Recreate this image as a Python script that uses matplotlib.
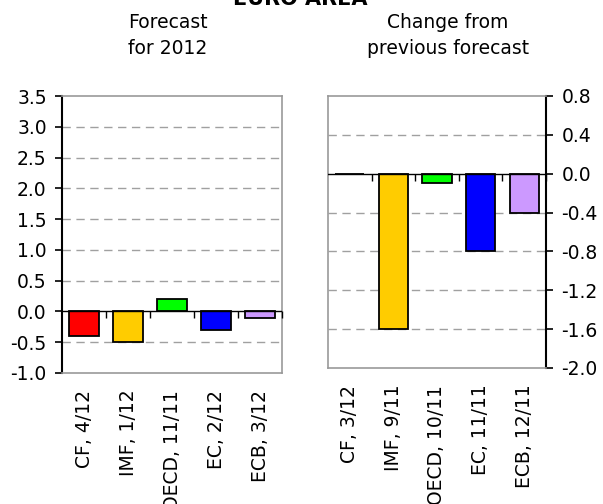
import matplotlib
matplotlib.use("Agg")
import matplotlib.pyplot as plt
import matplotlib.markers as mmarkers
import numpy as np

# Forecast of euro area GDP growth for 2012 and change from previous forecast
left_labels = ["CF, 4/12", "IMF, 1/12", "OECD, 11/11", "EC, 2/12", "ECB, 3/12"]
left_values = [-0.4, -0.5, 0.2, -0.3, -0.1]

right_labels = ["CF, 3/12", "IMF, 9/11", "OECD, 10/11", "EC, 11/11", "ECB, 12/11"]
right_values = [0.0, -1.6, -0.1, -0.8, -0.4]

bar_colors = ["#FF0000", "#FFCC00", "#00FF00", "#0000FF", "#CC99FF"]

left_ticks = [-1.0, -0.5, 0.0, 0.5, 1.0, 1.5, 2.0, 2.5, 3.0, 3.5]
right_ticks = [-2.0, -1.6, -1.2, -0.8, -0.4, 0.0, 0.4, 0.8]

plt.rcParams["font.family"] = ["DejaVu Sans"]
FS = 13.5
GRID = "#A0A0A0"
FRAME = "#999999"

W, H = 603, 504
fig = plt.figure(figsize=(W / 100, H / 100), dpi=100)


def px_axes(x0, y0, x1, y1):
    return fig.add_axes([x0 / W, 1 - y1 / H, (x1 - x0) / W, (y1 - y0) / H])


def draw_panel(ax, labels, values, ticks, side):
    n = len(labels)
    x = np.arange(n)
    ax.set_xlim(-0.5, n - 0.5)
    ax.set_ylim(ticks[0], ticks[-1])
    for t in ticks[1:-1]:
        if t != 0:
            ax.axhline(t, color=GRID, lw=1.0, ls=(0, (6, 4)), zorder=0)
    ax.bar(x, values, width=0.67, color=bar_colors, edgecolor="black",
           linewidth=1.3, zorder=2)
    ax.axhline(0, color="black", lw=1.0, zorder=3)
    bounds = np.arange(n) + 0.5
    ax.plot(bounds, np.zeros(n), ls="none", marker=mmarkers.TICKDOWN,
            ms=5, mew=1.0, color="black", zorder=3, clip_on=False)

    ax.set_xticks(x)
    ax.set_xticklabels(labels, rotation=90, fontsize=FS)
    ax.tick_params(axis="x", length=0, pad=12)

    ax.set_yticks(ticks)
    ax.set_yticklabels([f"{t:.1f}" for t in ticks], fontsize=FS)
    ax.tick_params(axis="y", length=5, width=1.2, color="black",
                   direction="out", pad=6)
    for s in ax.spines.values():
        s.set_color(FRAME)
        s.set_linewidth(1.2)
    if side == "left":
        ax.spines["left"].set_color("black")
        ax.spines["left"].set_linewidth(1.5)
    else:
        ax.yaxis.tick_right()
        ax.spines["right"].set_color("black")
        ax.spines["right"].set_linewidth(1.5)


ax1 = px_axes(62, 96, 282, 373)
draw_panel(ax1, left_labels, left_values, left_ticks, "left")

ax2 = px_axes(328, 96, 546, 368)
draw_panel(ax2, right_labels, right_values, right_ticks, "right")

fig.text(300 / W, 1 - 5 / H, "EURO AREA", ha="center", va="baseline",
         fontsize=15, fontweight="bold")
fig.text(168 / W, 1 - 28 / H, "Forecast", ha="center", va="baseline", fontsize=FS)
fig.text(168 / W, 1 - 54 / H, "for 2012", ha="center", va="baseline", fontsize=FS)
fig.text(448 / W, 1 - 28 / H, "Change from", ha="center", va="baseline", fontsize=FS)
fig.text(448 / W, 1 - 54 / H, "previous forecast", ha="center", va="baseline", fontsize=FS)

fig.savefig("out.png", dpi=100)
